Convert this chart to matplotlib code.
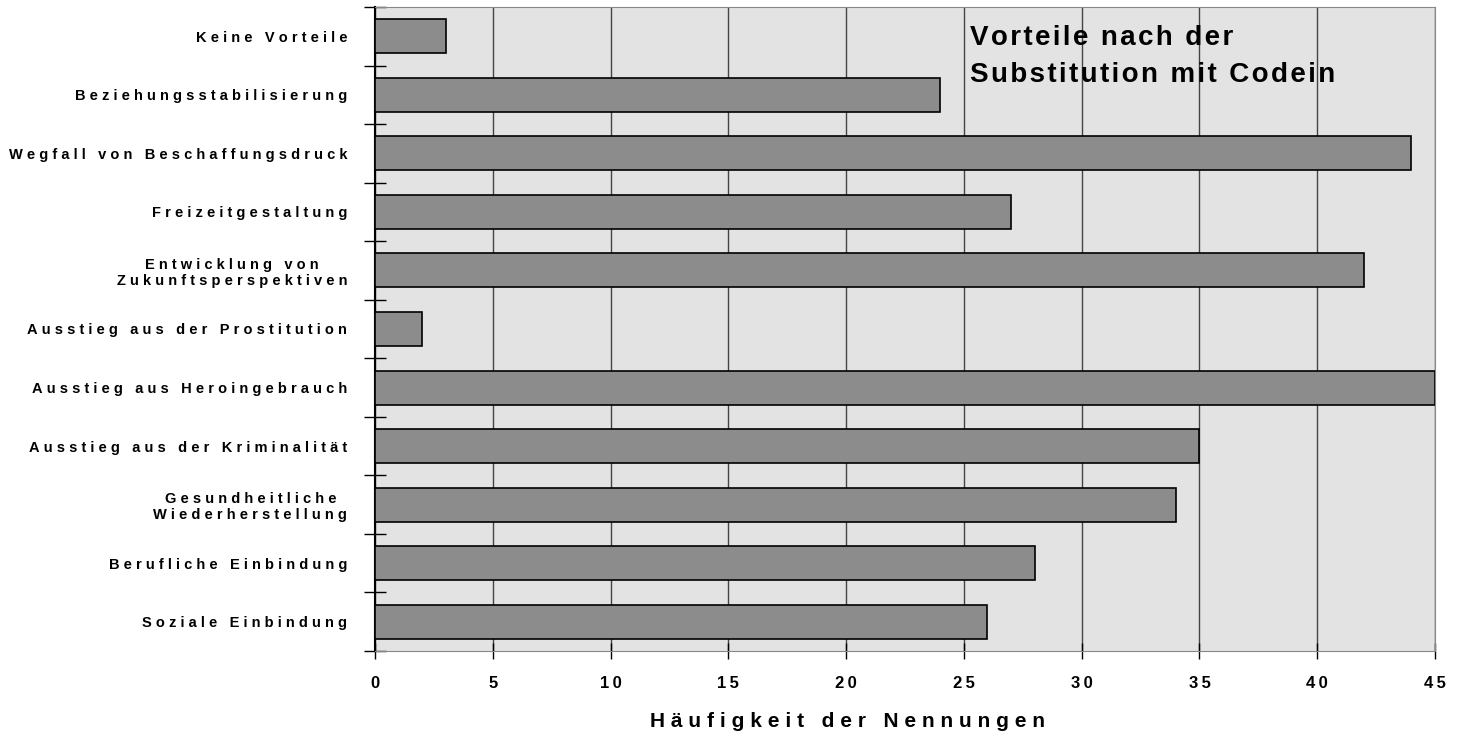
import numpy as np
import matplotlib.pyplot as plt

categories = ['Keine Vorteile', 'Beziehungsstabilisierung', 'Wegfall von Beschaffungsdruck',
              'Freizeitgestaltung', 'Entwicklung von\nZukunftsperspektiven',
              'Ausstieg aus der Prostitution', 'Ausstieg aus Heroingebrauch',
              'Ausstieg aus der Kriminalität', 'Gesundheitliche\nWiederherstellung',
              'Berufliche Einbindung', 'Soziale Einbindung']
values = [3, 24, 44, 27, 42, 2, 45, 35, 34, 28, 26]
xticks = [0, 5, 10, 15, 20, 25, 30, 35, 40, 45]

THIN = '\u2009'
HAIR = '\u200a'


def spaced(s, sep=THIN):
    # wide letter spacing like in the original
    return '\n'.join(sep.join(line) for line in s.split('\n'))


plt.rcParams['font.family'] = ['Liberation Sans', 'DejaVu Sans']
plt.rcParams['font.weight'] = 'bold'

fig = plt.figure(figsize=(14.61, 7.35), dpi=100)
ax = fig.add_axes([0.2567, 0.1143, 0.7255, 0.8762])
ax.set_facecolor('#e3e3e3')

y = np.arange(len(categories))
ax.barh(y, values, height=0.58, color='#8c8c8c', edgecolor='black', linewidth=1.2, zorder=3)

ax.set_xlim(0, 45)
ax.set_ylim(len(categories) - 0.5, -0.5)
ax.set_xticks(xticks)
ax.set_xticklabels([spaced(str(t)) for t in xticks], fontsize=12, fontweight='bold')
ax.xaxis.grid(True, color='#444444', linewidth=1.0, zorder=1)

ax.set_yticks(y)
ax.set_yticklabels([spaced(c, THIN + HAIR) for c in categories], fontsize=10.5,
                   fontweight='bold', multialignment='center')
ax.tick_params(axis='y', length=0, pad=20)
ax.set_yticks(np.arange(-0.5, len(categories) + 0.5, 1), minor=True)
ax.tick_params(axis='y', which='minor', direction='inout', length=16, width=1)
ax.tick_params(axis='x', direction='inout', length=12, width=1, pad=12)

for s in ['top', 'right', 'bottom']:
    ax.spines[s].set_color('#888888')
ax.spines['left'].set_color('black')
ax.spines['left'].set_linewidth(1.5)

ax.set_xlabel(spaced('Häufigkeit der Nennungen', THIN + HAIR), fontsize=15, fontweight='bold')
ax.xaxis.set_label_coords(0.446, -0.094)

ax.text(0.561, 0.972, spaced('Vorteile nach der\nSubstitution mit Codein', HAIR),
        transform=ax.transAxes, fontsize=20, fontweight='bold', ha='left', va='top',
        linespacing=1.55, zorder=4)

fig.savefig('out.png', dpi=100)
